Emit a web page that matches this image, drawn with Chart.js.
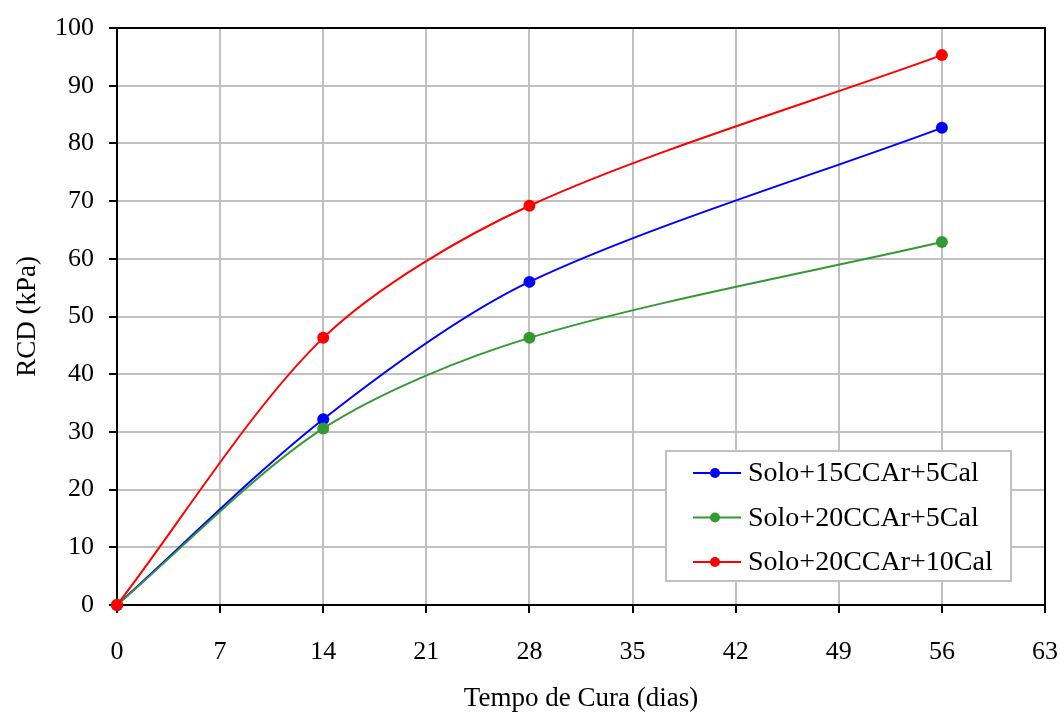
<!DOCTYPE html>
<html lang="pt">
<head>
<meta charset="UTF-8">
<title>RCD x Tempo de Cura</title>
<script src="https://cdn.jsdelivr.net/npm/chart.js"></script>
<style>
    body { margin: 0; background: #fff; }
</style>
</head>
<body>
<canvas id="grafico" width="1060" height="715"></canvas>
<script>
// dados
var dias = [0, 14, 28, 56];
var solo15CCAr5Cal = [0, 32.2, 56.0, 82.7];
var solo20CCAr5Cal = [0, 30.6, 46.3, 62.9];
var solo20CCAr10Cal = [0, 46.3, 69.2, 95.3];
var nomes = ['Solo+15CCAr+5Cal', 'Solo+20CCAr+5Cal', 'Solo+20CCAr+10Cal'];
var cores = ['#0000ff', '#339933', '#ff0000'];

var fonte = '"Liberation Serif", "Times New Roman", serif';

function pontos(vals) {
    return dias.map(function(d, i) { return { x: d, y: vals[i] }; });
}

function serie(i, vals) {
    return {
        label: nomes[i],
        data: pontos(vals),
        borderColor: cores[i],
        backgroundColor: cores[i],
        borderWidth: 2,
        pointRadius: 6,
        pointBorderWidth: 0,
        showLine: true,
        tension: 0.3,
        clip: false,
        order: 3 - i   // a ultima serie fica por cima
    };
}

// moldura e legenda dentro da area do grafico
var extras = {
    id: 'extras',
    afterDraw: function(chart) {
        var ctx = chart.ctx;
        var a = chart.chartArea;
        ctx.save();
        ctx.strokeStyle = '#000';
        ctx.lineWidth = 2;
        ctx.beginPath();
        ctx.moveTo(a.left, a.top);
        ctx.lineTo(a.right, a.top);
        ctx.lineTo(a.right, a.bottom);
        ctx.stroke();

        var bx = 666, by = 451, bw = 345, bh = 130;
        ctx.fillStyle = '#fff';
        ctx.fillRect(bx, by, bw, bh);
        ctx.strokeStyle = '#c0c0c0';
        ctx.lineWidth = 2;
        ctx.strokeRect(bx, by, bw, bh);
        ctx.font = '28px ' + fonte;
        ctx.textBaseline = 'middle';
        chart.data.datasets.forEach(function(ds, i) {
            var y = by + 22 + i * 44.5;
            ctx.strokeStyle = ds.borderColor;
            ctx.lineWidth = 2;
            ctx.beginPath();
            ctx.moveTo(693, y);
            ctx.lineTo(741, y);
            ctx.stroke();
            ctx.fillStyle = ds.borderColor;
            ctx.beginPath();
            ctx.arc(715, y, 5, 0, Math.PI * 2);
            ctx.fill();
            ctx.fillStyle = '#000';
            ctx.fillText(ds.label, 748, y + 1);
        });
        ctx.restore();
    }
};

new Chart(document.getElementById('grafico'), {
    type: 'scatter',
    data: {
        datasets: [
            serie(0, solo15CCAr5Cal),
            serie(1, solo20CCAr5Cal),
            serie(2, solo20CCAr10Cal)
        ]
    },
    options: {
        responsive: false,
        animation: false,
        layout: { padding: { top: 28, right: 15, left: 0, bottom: 0 } },
        plugins: {
            legend: { display: false },
            tooltip: { enabled: false }
        },
        scales: {
            x: {
                type: 'linear',
                min: 0,
                max: 63,
                afterFit: function(s) {
                    s.height = 110;
                    s.paddingLeft = 0;
                    s.paddingRight = 0;
                },
                ticks: { stepSize: 7, color: '#000', padding: 24, font: { family: fonte, size: 26 } },
                grid: { color: '#c0c0c0', lineWidth: 2, tickLength: 8, tickColor: '#000', tickWidth: 2 },
                border: { color: '#000', width: 2 },
                title: { display: true, text: 'Tempo de Cura (dias)', color: '#000', padding: { top: 10, bottom: 0 }, font: { family: fonte, size: 27 } }
            },
            y: {
                min: 0,
                max: 100,
                afterFit: function(s) {
                    s.width = 117;
                    s.paddingTop = 0;
                    s.paddingBottom = 0;
                },
                ticks: { stepSize: 10, color: '#000', padding: 15, font: { family: fonte, size: 26 } },
                grid: { color: '#c0c0c0', lineWidth: 2, tickLength: 8, tickColor: '#000', tickWidth: 2 },
                border: { color: '#000', width: 2 },
                title: { display: true, text: 'RCD (kPa)', color: '#000', padding: { top: 12, bottom: 0 }, font: { family: fonte, size: 27 } }
            }
        }
    },
    plugins: [extras]
});
</script>
</body>
</html>
